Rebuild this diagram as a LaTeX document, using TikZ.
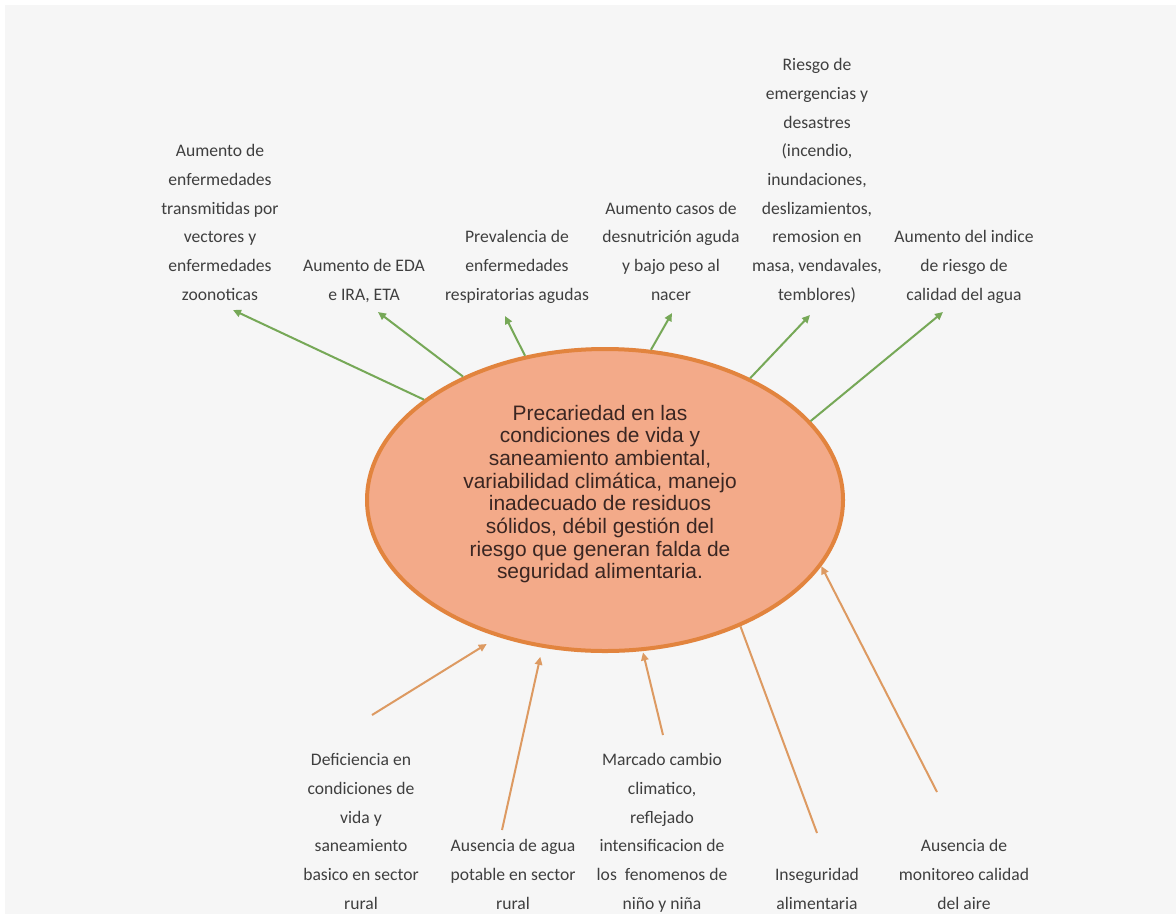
\documentclass[tikz,border=0pt]{standalone}
\usepackage{fontspec}
\usetikzlibrary{shapes.geometric,arrows.meta}
\newfontfamily\lblfont{Carlito}
\newfontfamily\ellfont{Liberation Sans}
\definecolor{bg}{HTML}{F6F6F6}
\definecolor{elf}{HTML}{F3AA89}
\definecolor{elb}{HTML}{E2843E}
\definecolor{grn}{HTML}{76A857}
\definecolor{org}{HTML}{DD9A62}
\definecolor{txt}{HTML}{3F3F3F}
\definecolor{etx}{HTML}{3A2622}
\tikzset{
  lbl/.style={font={\lblfont\fontsize{13.2}{21.5}\selectfont}, text=txt, align=center, inner sep=0pt, anchor=south},
  prb/.style={ellipse, draw=elb, fill=elf, line width=3pt, minimum width=357pt, minimum height=226.5pt},
  ptx/.style={text=etx, align=center, inner sep=0pt, font={\ellfont\fontsize{15.7}{17}\selectfont}},
  eff/.style={draw=grn, line width=1.5pt, -{Triangle[length=6pt,width=5.5pt]}},
  cau/.style={draw=org, line width=1.5pt, -{Triangle[length=6pt,width=5.5pt]}}}

\begin{document}
\begin{tikzpicture}[x=0.75pt, y=-0.75pt]
\useasboundingbox (0,0) rectangle (1176,914);
\fill[white] (0,0) rectangle (1176,914);
\fill[bg] (5,5) rectangle (1176,914);
\node[prb] (prob) at (605,500) {};
\node[ptx] (probtx) at (600,494) {Precariedad en las\\condiciones de vida y\\saneamiento ambiental,\\variabilidad climática, manejo\\inadecuado de residuos\\sólidos, débil gestión del\\riesgo que generan falda de\\seguridad alimentaria.};
% effects, above
\foreach \x/\txt/\tx/\ty/\a [count=\i] in {
  220/{Aumento de\\enfermedades\\transmitidas por\\vectores y\\enfermedades\\zoonoticas}/233/310/151,
  364/{Aumento de EDA\\e IRA, ETA}/378/312/139,
  517/{Prevalencia de\\enfermedades\\respiratorias agudas}/505/316/119,
  671/{Aumento casos de\\desnutrición aguda\\y bajo peso al\\nacer}/672/313/73,
  817/{Riesgo de\\emergencias y\\desastres\\(incendio,\\inundaciones,\\deslizamientos,\\remosion en\\masa, vendavales,\\temblores)}/810/315/40,
  964/{Aumento del indice\\de riesgo de\\calidad del agua}/943/312/21} {
  \node[lbl] (e\i) at (\x,309) {\txt\strut};
  \coordinate (te\i) at (\tx,\ty);
  \draw[eff] (prob.\a) -- (te\i);}
% causes, below
\foreach \x/\txt/\sx/\sy/\a/\sh [count=\i] in {
  361/{Deficiencia en\\condiciones de\\vida y\\saneamiento\\basico en sector\\rural}/372/715/232/10,
  513/{Ausencia de agua\\potable en sector\\rural}/502/830/247.5/7,
  662/{Marcado cambio\\climatico,\\reflejado\\intensificacion de\\los\ \ fenomenos de\\niño y niña}/663/735/284.7/1,
  964/{Ausencia de\\monitoreo calidad\\del aire}/937/792/343.8/0} {
  \node[lbl] (c\i) at (\x,918) {\txt\strut};
  \coordinate (sc\i) at (\sx,\sy);
  \draw[cau, shorten >=\sh pt] (sc\i) -- (prob.\a);}
\node[lbl] (c5) at (817,918) {Inseguridad\\alimentaria\strut};
\coordinate (sc5) at (817,833);
\draw[draw=org, line width=1.5pt] (sc5) -- (prob.317.6);
\end{tikzpicture}
\end{document}
